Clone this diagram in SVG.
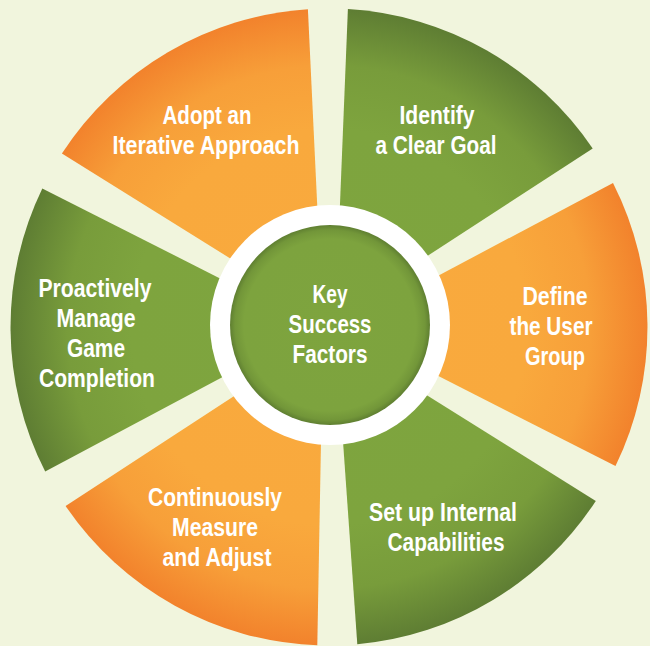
<svg xmlns="http://www.w3.org/2000/svg" width="650" height="646" viewBox="0 0 650 646">
<defs>
<radialGradient id="gOr" gradientUnits="userSpaceOnUse" cx="329" cy="327" r="319">
<stop offset="0" stop-color="#f9aa3e"/>
<stop offset="0.62" stop-color="#f9a93d"/>
<stop offset="0.82" stop-color="#f79f39"/>
<stop offset="1" stop-color="#f2822c"/>
</radialGradient>
<radialGradient id="gGr" gradientUnits="userSpaceOnUse" cx="329" cy="327" r="319">
<stop offset="0" stop-color="#7ea53f"/>
<stop offset="0.62" stop-color="#7ea43e"/>
<stop offset="0.82" stop-color="#789c3b"/>
<stop offset="1" stop-color="#5e7d33"/>
</radialGradient>
<radialGradient id="gCtr" gradientUnits="userSpaceOnUse" cx="330" cy="325" r="100">
<stop offset="0" stop-color="#7ea43e"/>
<stop offset="0.86" stop-color="#7da33e"/>
<stop offset="0.95" stop-color="#729639"/>
<stop offset="1" stop-color="#5f7f31"/>
</radialGradient>
</defs>
<style>
.or{fill:url(#gOr)}
.gr{fill:url(#gGr)}
text{font-family:"Liberation Sans",Arial,sans-serif;font-weight:bold;font-size:25px;fill:#ffffff;text-anchor:middle}
</style>
<rect width="650" height="646" fill="#f1f5dd"/>
<g id="identify">
<path class="gr" d="M375.8,289.5 L592.7,148.5 A318.5,318.5 0 0 0 347.9,9.1 L337.4,267.6 Z"/>
<text x="437" y="124" textLength="75" lengthAdjust="spacingAndGlyphs">Identify</text>
<text x="436" y="154" textLength="121" lengthAdjust="spacingAndGlyphs">a Clear Goal</text>
</g>
<g id="adopt">
<path class="or" d="M320.2,267.6 L307.9,9.2 A318.5,318.5 0 0 0 61.9,153.5 L281.5,290.4 Z"/>
<text x="207" y="124" textLength="89" lengthAdjust="spacingAndGlyphs">Adopt an</text>
<text x="206" y="154" textLength="187" lengthAdjust="spacingAndGlyphs">Iterative Approach</text>
</g>
<g id="proactively">
<path class="gr" d="M273.1,305.3 L42.3,188.4 A318.5,318.5 0 0 0 45.2,471.6 L273.5,349.9 Z"/>
<text x="95" y="297" textLength="113" lengthAdjust="spacingAndGlyphs">Proactively</text>
<text x="96" y="327" textLength="79" lengthAdjust="spacingAndGlyphs">Manage</text>
<text x="96" y="357" textLength="58" lengthAdjust="spacingAndGlyphs">Game</text>
<text x="97" y="387" textLength="116" lengthAdjust="spacingAndGlyphs">Completion</text>
</g>
<g id="continuously">
<path class="or" d="M282.2,364.6 L65.6,506.0 A318.5,318.5 0 0 0 317.3,645.3 L322.0,386.6 Z"/>
<text x="215" y="506" textLength="134" lengthAdjust="spacingAndGlyphs">Continuously</text>
<text x="215" y="536" textLength="86" lengthAdjust="spacingAndGlyphs">Measure</text>
<text x="217" y="566" textLength="109" lengthAdjust="spacingAndGlyphs">and Adjust</text>
</g>
<g id="setup">
<path class="gr" d="M339.1,386.1 L357.3,644.2 A318.5,318.5 0 0 0 595.8,500.9 L376.5,363.7 Z"/>
<text x="443" y="521" textLength="148" lengthAdjust="spacingAndGlyphs">Set up Internal</text>
<text x="446" y="551" textLength="117" lengthAdjust="spacingAndGlyphs">Capabilities</text>
</g>
<g id="define">
<path class="or" d="M384.9,348.8 L615.5,466.1 A318.5,318.5 0 0 0 613.0,182.9 L384.5,304.2 Z"/>
<text x="555" y="305" textLength="65" lengthAdjust="spacingAndGlyphs">Define</text>
<text x="551" y="335" textLength="83" lengthAdjust="spacingAndGlyphs">the User</text>
<text x="555" y="365" textLength="60" lengthAdjust="spacingAndGlyphs">Group</text>
</g>
<g id="center">
<circle cx="330" cy="325" r="120" fill="#ffffff"/>
<circle cx="330" cy="325" r="100" fill="url(#gCtr)"/>
<text x="330" y="303" textLength="35" lengthAdjust="spacingAndGlyphs">Key</text>
<text x="330" y="333" textLength="83" lengthAdjust="spacingAndGlyphs">Success</text>
<text x="330" y="363" textLength="75" lengthAdjust="spacingAndGlyphs">Factors</text>
</g>
</svg>
